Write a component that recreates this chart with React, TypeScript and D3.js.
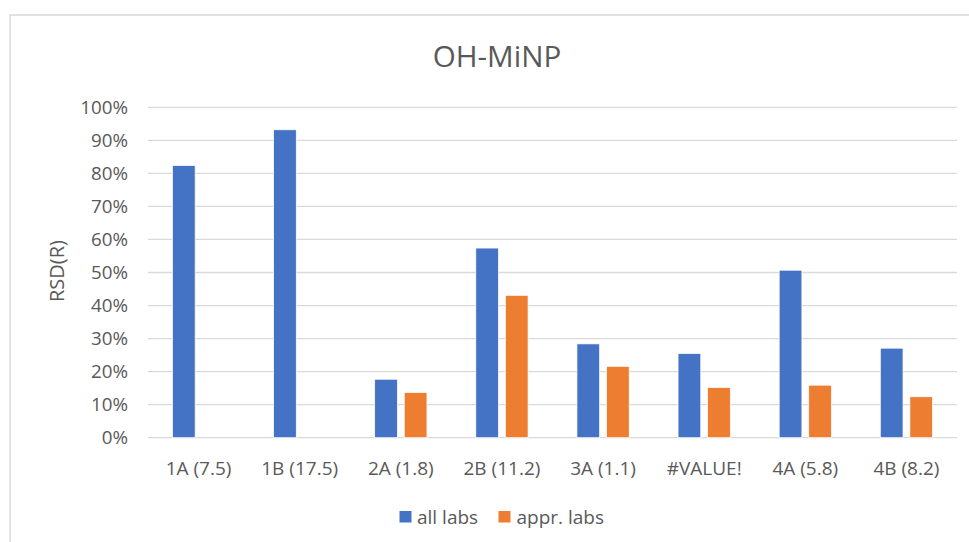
import React from "react";
import * as d3 from "d3";

const categories = ["1A (7.5)", "1B (17.5)", "2A (1.8)", "2B (11.2)", "3A (1.1)", "#VALUE!", "4A (5.8)", "4B (8.2)"];
const seriesNames = ["all labs", "appr. labs"];
const allLabs = [0.824, 0.932, 0.177, 0.574, 0.284, 0.255, 0.507, 0.271];
const apprLabs: (number | null)[] = [null, null, 0.137, 0.431, 0.216, 0.152, 0.159, 0.124];
const yTicks = [0, 0.1, 0.2, 0.3, 0.4, 0.5, 0.6, 0.7, 0.8, 0.9, 1.0];
const colors = ["#4472C4", "#ED7D31"];

const W = 969;
const H = 542;
const FONT = "'Open Sans', 'Noto Sans', sans-serif";
const TEXT = "#595959";

export default function App() {
  const plotL = 148, plotR = 957, plotT = 107.3, plotB = 437.7;
  const x0 = d3.scaleBand<string>().domain(categories).range([plotL, plotR]).paddingInner(0).paddingOuter(0);
  const groupW = x0.step() * 0.517;
  const x1 = d3.scaleBand<string>().domain(seriesNames).range([0, groupW]).paddingInner(0.2308).paddingOuter(0);
  const y = d3.scaleLinear().domain([0, 1]).range([plotB, plotT]);
  const fmt = d3.format(".0%");
  const data = [allLabs, apprLabs];

  return (
    <svg width={W} height={H} style={{ position: "absolute", left: 0, top: 0, background: "#fff" }} fontFamily={FONT}>
      <rect x={0} y={0} width={W} height={H} fill="#fff" />
      <rect x={10} y={15} width={1100} height={700} fill="none" stroke="#d9d9d9" strokeWidth={1.5} />
      <text x={497} y={67} textAnchor="middle" fontSize={29.6} fill={TEXT}>OH-MiNP</text>
      {yTicks.map((t) => (
        <g key={t}>
          <line x1={plotL} x2={plotR} y1={y(t)} y2={y(t)} stroke="#d9d9d9" strokeWidth={1.3} />
          <text x={128} y={y(t)} dy="0.36em" textAnchor="end" fontSize={18.8} fill={TEXT}>{fmt(t)}</text>
        </g>
      ))}
      <text transform={`translate(63.5, 271) rotate(-90)`} textAnchor="middle" fontSize={20} fill={TEXT}>RSD(R)</text>
      {categories.map((c, i) => {
        const gx = (x0(c) as number) + (x0.bandwidth() - groupW) / 2;
        return (
          <g key={c}>
            {data.map((s, j) => {
              const v = s[i];
              if (v == null) return null;
              const bx = gx + (x1(seriesNames[j]) as number);
              return (
                <rect key={j} x={bx} y={y(v)} width={x1.bandwidth()} height={y(0) - y(v)}
                  fill={colors[j]} stroke="#fff" strokeWidth={0.75} />
              );
            })}
            <text x={(x0(c) as number) + x0.bandwidth() / 2} y={475} textAnchor="middle" fontSize={19} fill={TEXT}>{c}</text>
          </g>
        );
      })}
      <g>
        <rect x={399.5} y={511} width={12} height={11.5} fill={colors[0]} />
        <text x={417} y={523.5} fontSize={19} fill={TEXT}>{seriesNames[0]}</text>
        <rect x={498.5} y={511} width={12} height={11.5} fill={colors[1]} />
        <text x={516.5} y={523.5} fontSize={19} fill={TEXT}>{seriesNames[1]}</text>
      </g>
    </svg>
  );
}
